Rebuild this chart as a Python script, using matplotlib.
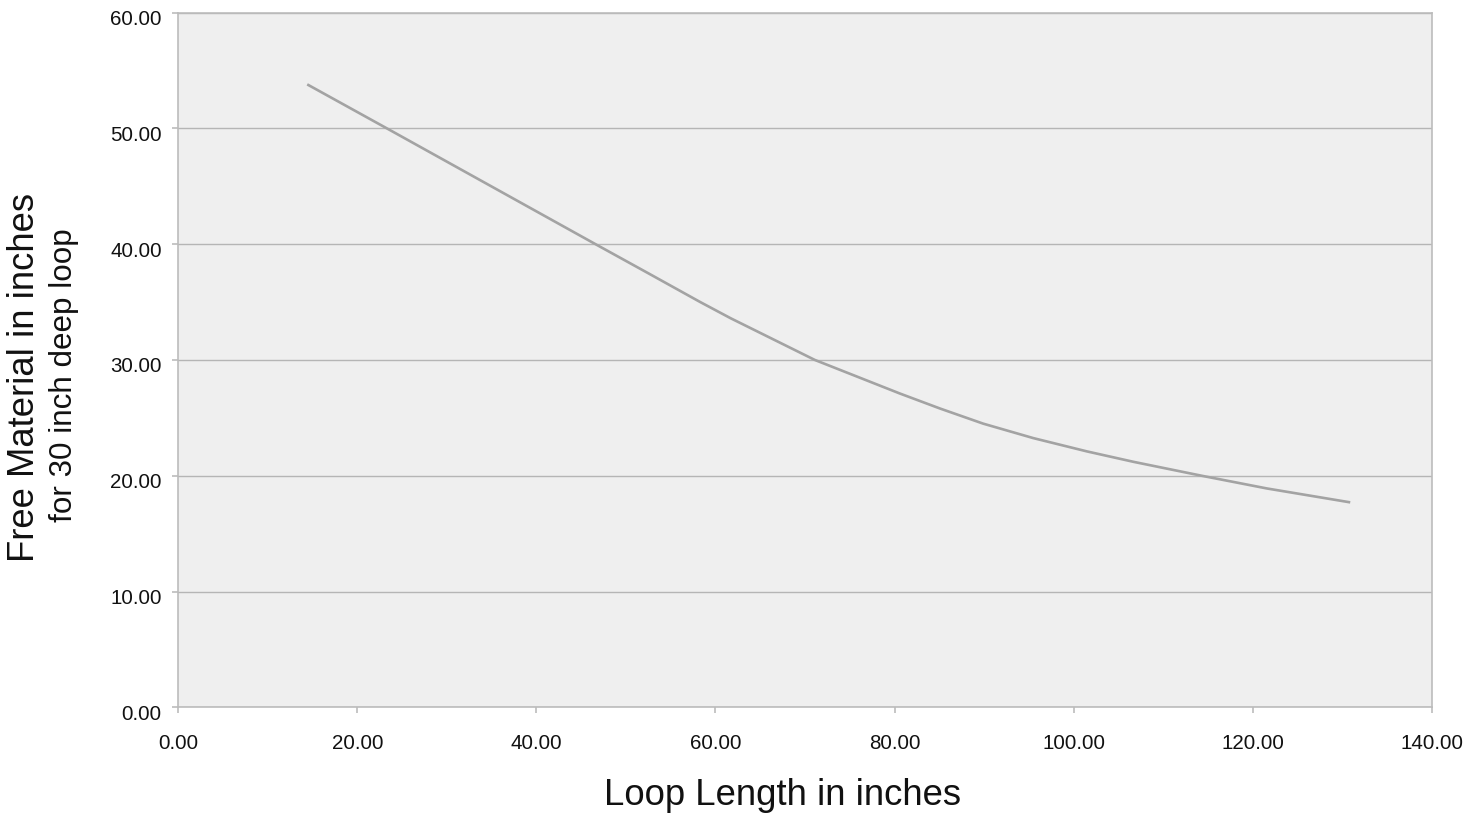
import matplotlib
matplotlib.use("Agg")
import matplotlib.pyplot as plt
import matplotlib.transforms as mtransforms

# Data
loop_length = [14.4, 23.3, 46.6, 52.7, 58.3, 61.7, 71.1, 80.6, 85.1, 89.9,
               95.5, 101.5, 106.7, 114.3, 121.6, 130.9]
free_material = [53.8, 50.0, 40.0, 37.4, 35.0, 33.6, 30.0, 27.1, 25.8, 24.5,
                 23.25, 22.1, 21.2, 20.0, 18.9, 17.7]
x_ticks = [0, 20, 40, 60, 80, 100, 120, 140]
y_ticks = [0, 10, 20, 30, 40, 50, 60]

plt.rcParams['font.family'] = ['Liberation Sans', 'DejaVu Sans']

fig = plt.figure(figsize=(14.82, 8.18), dpi=100)
ax = fig.add_axes([178.3 / 1482, (818 - 707.3) / 818,
                   (1431.7 - 178.3) / 1482, (707.3 - 12.6) / 818])
ax.set_facecolor('#efefef')

ax.plot(loop_length, free_material, color='#a3a3a3', linewidth=1.9,
        solid_capstyle='butt', solid_joinstyle='round', zorder=3)

ax.set_xlim(0, 140)
ax.set_ylim(0, 60)
ax.set_xticks(x_ticks)
ax.set_yticks(y_ticks)
ax.set_xticklabels([f"{v:.2f}" for v in x_ticks])
ax.set_yticklabels([f"{v:.2f}" for v in y_ticks])

ax.yaxis.grid(True, color='#b5b5b5', linewidth=1.0, zorder=1)
ax.xaxis.grid(False)
ax.set_axisbelow(True)

for side in ['left', 'bottom', 'right', 'top']:
    ax.spines[side].set_color('#bcbcbc')
    ax.spines[side].set_linewidth(1.2)

ax.tick_params(axis='x', direction='out', length=4, width=1.2, color='#bcbcbc',
               labelsize=14.8, pad=15, labelcolor='#111111')
ax.tick_params(axis='y', direction='out', length=4, width=1.2, color='#bcbcbc',
               labelsize=14.8, pad=8, labelcolor='#111111')

offset = mtransforms.ScaledTranslation(0, -5 / 100, fig.dpi_scale_trans)
for lbl in ax.get_yticklabels():
    lbl.set_transform(lbl.get_transform() + offset)

fig.text(782.5 / 1482, (818 - 805) / 818, "Loop Length in inches",
         ha='center', va='baseline', fontsize=26.3, color='#111111')
fig.text(25 / 1482, (818 - 377) / 818, "Free Material in inches",
         rotation=90, ha='center', va='center', fontsize=26.3, color='#111111')
fig.text(64 / 1482, (818 - 375) / 818, "for 30 inch deep loop",
         rotation=90, ha='center', va='center', fontsize=22.6, color='#111111')

fig.savefig("out.png", dpi=100)
